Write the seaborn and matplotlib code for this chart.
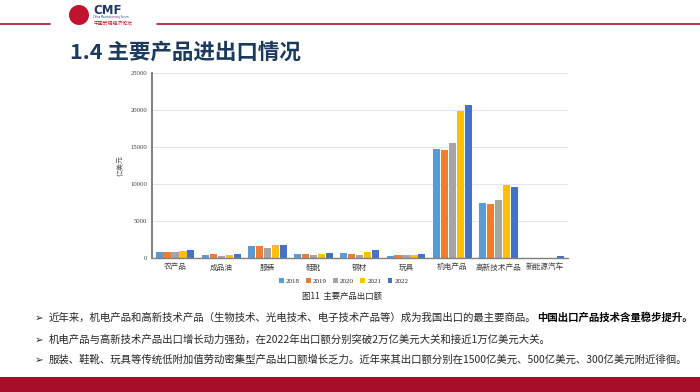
import numpy as np
import pandas as pd
import seaborn as sns
import matplotlib.pyplot as plt
from matplotlib.patches import Rectangle, Ellipse

# export values by product (亿美元)
products = ['农产品', '成品油', '服装', '鞋靴', '钢材', '玩具', '机电产品', '高新技术产品', '新能源汽车']
years = ['2018', '2019', '2020', '2021', '2022']
exp_2018 = [860, 360, 1580, 500, 680, 230, 14730, 7480, 50]
exp_2019 = [860, 500, 1580, 500, 590, 360, 14640, 7340, 50]
exp_2020 = [860, 270, 1400, 400, 450, 360, 15500, 7880, 50]
exp_2021 = [950, 360, 1800, 590, 860, 450, 19910, 9820, 50]
exp_2022 = [1040, 590, 1800, 720, 1040, 590, 20680, 9590, 270]
year_colors = ['#5B9BD5', '#ED7D31', '#A5A5A5', '#FFC000', '#4472C4']

bullets = [
    ('近年来，机电产品和高新技术产品（生物技术、光电技术、电子技术产品等）成为我国出口的最主要商品。', '中国出口产品技术含量稳步提升。'),
    ('机电产品与高新技术产品出口增长动力强劲，在2022年出口额分别突破2万亿美元大关和接近1万亿美元大关。', ''),
    ('服装、鞋靴、玩具等传统低附加值劳动密集型产品出口额增长乏力。近年来其出口额分别在1500亿美元、500亿美元、300亿美元附近徘徊。', ''),
]

sns.set_style('white')
plt.rcParams['font.family'] = ['Noto Sans CJK SC', 'DejaVu Sans']

# long-form table for seaborn
rows = []
for yr, vals in zip(years, [exp_2018, exp_2019, exp_2020, exp_2021, exp_2022]):
    for p, v in zip(products, vals):
        rows.append({'product': p, 'year': yr, 'value': v})
df = pd.DataFrame(rows)

fig = plt.figure(figsize=(7, 3.92), dpi=100)
ax = fig.add_axes([0.217, 0.342, 0.594, 0.472])

sns.barplot(data=df, x='product', y='value', hue='year', palette=year_colors,
            width=0.86, gap=0.1, linewidth=0, saturation=1, ax=ax, legend=True)

ax.set_ylim(0, 25000)
ax.set_yticks(np.arange(0, 25001, 5000))
ax.yaxis.grid(True, color='#E6E6E6', linewidth=0.8)
ax.set_axisbelow(True)
ax.set_xlim(-0.5, len(products) - 0.5)
ax.set_xlabel('')
ax.set_ylabel('亿美元', fontsize=5, color='#595959', labelpad=4)
ax.tick_params(axis='y', labelsize=4.8, length=1.5, width=0.6, colors='#404040', pad=2)
for lab in ax.get_yticklabels():
    lab.set_family(['Liberation Serif'])
ax.tick_params(axis='x', labelsize=5.5, length=0, pad=4, colors='#404040')
ax.set_xticks(np.arange(-0.5, len(products), 1), minor=True)
ax.tick_params(axis='x', which='minor', length=2, width=0.6, color='#404040')
for s in ['top', 'right']:
    ax.spines[s].set_visible(False)
ax.spines['left'].set_color('#808080')
ax.spines['left'].set_linewidth(1.4)
ax.spines['bottom'].set_color('#808080')
ax.spines['bottom'].set_linewidth(1.0)

handles, labels = ax.get_legend_handles_labels()
ax.legend_.remove()
fig.legend(handles, labels, loc='center', bbox_to_anchor=(0.491, 0.284), ncol=5,
           frameon=False, prop={'family': 'Liberation Serif', 'size': 5},
           handlelength=0.7, handleheight=0.7, handletextpad=0.3, columnspacing=0.9)

# header: logo and red rule
fig.add_artist(plt.Line2D([0, 50 / 700], [0.939, 0.939], color='#B0102A', lw=1.2))
fig.add_artist(plt.Line2D([157 / 700, 1], [0.939, 0.939], color='#B0102A', lw=1.2))
fig.add_artist(Ellipse((79 / 700, 1 - 15 / 392), 20 / 700, 20 / 392, transform=fig.transFigure,
                       facecolor='#C0142E', edgecolor='none'))
fig.text(93 / 700, 1 - 10 / 392, 'CMF', fontsize=8.5, fontweight='bold', color='#1F3864',
         va='center', ha='left', family=['DejaVu Sans'])
fig.text(93 / 700, 1 - 17 / 392, 'China Macroeconomy Forum', fontsize=1.8, color='#1F3864',
         va='center', ha='left', family=['DejaVu Sans'])
fig.text(93 / 700, 1 - 23 / 392, '中国宏观经济论坛', fontsize=3.5, color='#C0142E',
         va='center', ha='left')

fig.text(70 / 700, 1 - 52 / 392, '1.4 主要产品进出口情况', fontsize=15.5, fontweight='bold',
         color='#1B3A5C', va='center', ha='left')

fig.text(342 / 700, 1 - 296 / 392, '图11  主要产品出口额', fontsize=6, color='#262626',
         va='center', ha='center')

renderer = fig.canvas.get_renderer()
for (txt, bold), yp in zip(bullets, [318, 340, 360]):
    yf = 1 - yp / 392
    fig.text(35 / 700, yf, '➢', fontsize=7.5, fontweight='bold', color='#262626',
             va='center', ha='left', family=['DejaVu Sans'])
    t = fig.text(49 / 700, yf, txt, fontsize=7.5, color='#262626', va='center', ha='left')
    if bold:
        bb = t.get_window_extent(renderer)
        fig.text(bb.x1 / fig.bbox.width, yf, bold, fontsize=7.5, fontweight='bold',
                 color='#000000', va='center', ha='left')

fig.add_artist(Rectangle((0, 0), 1, 15 / 392, transform=fig.transFigure,
                         facecolor='#A50F2A', edgecolor='none'))

fig.savefig('out.png', dpi=100, facecolor='white')
